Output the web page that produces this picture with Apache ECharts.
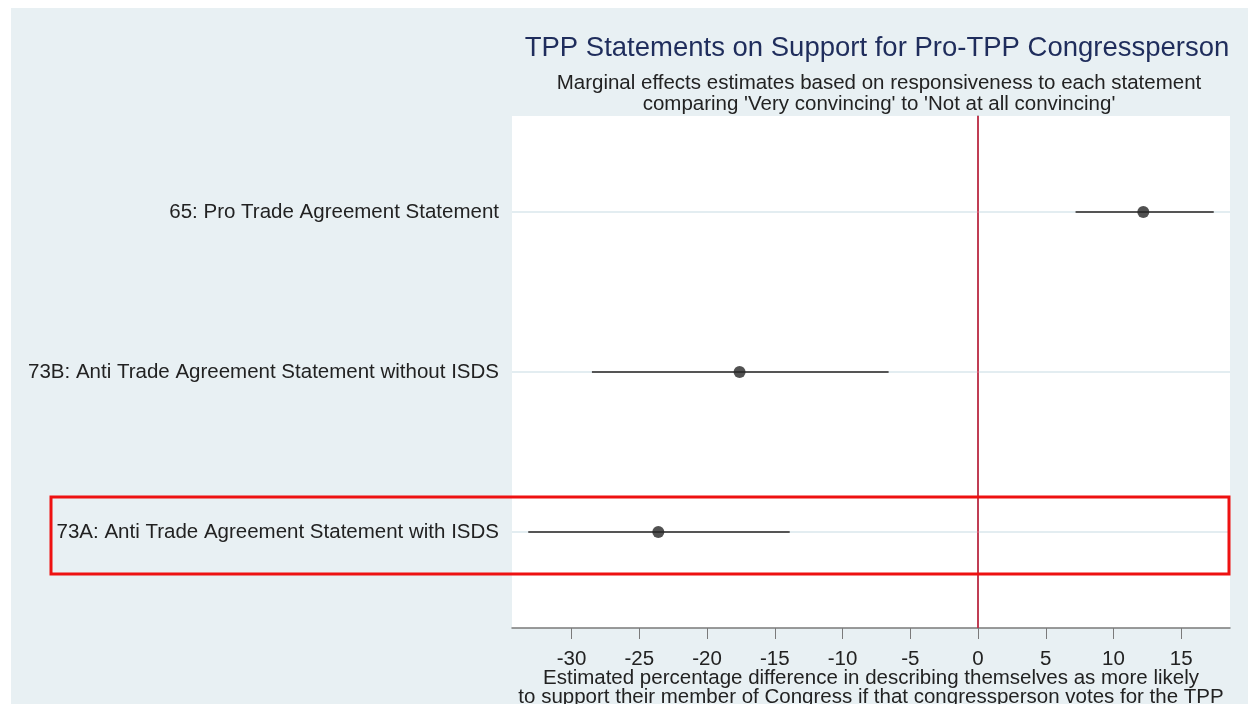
<!DOCTYPE html>
<html>
<head>
<meta charset="utf-8">
<script src="https://cdn.jsdelivr.net/npm/echarts@6/dist/echarts.min.js"></script>
<style>
  html, body { margin: 0; padding: 0; background: #ffffff; }
  #chart { position: absolute; left: 11px; top: 8px; width: 1237px; height: 696px; }
</style>
</head>
<body>
<div id="chart"></div>
<script>
// statements, top to bottom
const statements = [
  "65: Pro Trade Agreement Statement",
  "73B: Anti Trade Agreement Statement without ISDS",
  "73A: Anti Trade Agreement Statement with ISDS"
];
const estimates = [12.2, -17.6, -23.6];
const ciLow = [7.2, -28.5, -33.2];
const ciHigh = [17.4, -6.6, -13.9];
const xTicks = [-30, -25, -20, -15, -10, -5, 0, 5, 10, 15];
const rowPos = [1, 2, 3];

const chart = echarts.init(document.getElementById("chart"));

const barData = rowPos.map((p, i) => [ciLow[i], ciHigh[i], p]);
const pointData = rowPos.map((p, i) => [estimates[i], p]);

const option = {
  backgroundColor: "#e8f0f3",
  animation: false,
  textStyle: { fontFamily: "Liberation Sans, Arial, sans-serif" },
  title: [
    {
      text: "TPP Statements on Support for Pro-TPP Congressperson",
      left: 861, top: 21, textAlign: "center",
      textStyle: { fontSize: 27.5, fontWeight: "normal", color: "#1f2d5c" }
    },
    {
      text: "Marginal effects estimates based on responsiveness to each statement\ncomparing 'Very convincing' to 'Not at all convincing'",
      left: 863, top: 60, textAlign: "center",
      textStyle: { fontSize: 20.5, fontWeight: "normal", color: "#222", lineHeight: 21 }
    }
  ],
  grid: {
    left: 501, right: 18, top: 108, bottom: 76,
    outerBoundsMode: "none",
    backgroundColor: "#ffffff", show: true, borderWidth: 0
  },
  xAxis: {
    type: "value",
    min: -34.4, max: 18.6,
    axisLine: { show: true, lineStyle: { color: "#7a7a7a", width: 1.5 } },
    axisTick: { show: true, length: 11, customValues: xTicks, lineStyle: { color: "#7a7a7a" } },
    axisLabel: { customValues: xTicks, fontSize: 20.5, color: "#222", margin: 21 },
    splitLine: { show: false },
    name: "Estimated percentage difference in describing themselves as more likely\nto support their member of Congress if that congressperson votes for the TPP",
    nameLocation: "middle",
    nameGap: 41,
    nameMoveOverlap: false,
    nameTextStyle: { fontSize: 20.5, color: "#222", lineHeight: 19 }
  },
  yAxis: {
    type: "value",
    min: 0.4, max: 3.6,
    inverse: true,
    axisLine: { show: true, lineStyle: { color: "#7a7a7a", width: 1.5 } },
    axisTick: { show: true, length: 8, customValues: rowPos, lineStyle: { color: "#7a7a7a" } },
    axisLabel: {
      customValues: rowPos, fontSize: 20.5, color: "#222", margin: 13,
      formatter: v => statements[Math.round(v) - 1] || ""
    },
    splitLine: { show: false }
  },
  graphic: [
    {
      type: "rect",
      shape: { x: 40, y: 489, width: 1178, height: 77 },
      style: { fill: "none", stroke: "#ee1111", lineWidth: 3 },
      z: 100
    }
  ],
  series: [
    {
      // faint row gridlines
      type: "custom",
      data: rowPos.map(p => [p]),
      encode: { y: 0 },
      silent: true,
      renderItem: function (params, api) {
        const a = api.coord([-34.4, api.value(0)]);
        const b = api.coord([18.6, api.value(0)]);
        return { type: "line", shape: { x1: a[0], y1: a[1], x2: b[0], y2: b[1] }, style: { stroke: "#e3edf1", lineWidth: 2 } };
      },
      z: 1
    },
    {
      // confidence intervals
      type: "custom",
      data: barData,
      encode: { x: [0, 1], y: 2 },
      renderItem: function (params, api) {
        const a = api.coord([api.value(0), api.value(2)]);
        const b = api.coord([api.value(1), api.value(2)]);
        return { type: "line", shape: { x1: a[0], y1: a[1], x2: b[0], y2: b[1] }, style: { stroke: "#555555", lineWidth: 2 } };
      },
      z: 3
    },
    {
      type: "scatter",
      data: pointData,
      symbolSize: 12,
      itemStyle: { color: "#262626" },
      z: 4,
      markLine: {
        silent: true,
        symbol: "none",
        label: { show: false },
        lineStyle: { color: "#cc1f3c", width: 1.5, type: "solid" },
        data: [{ xAxis: 0 }]
      }
    }
  ]
};

chart.setOption(option);
</script>
</body>
</html>
